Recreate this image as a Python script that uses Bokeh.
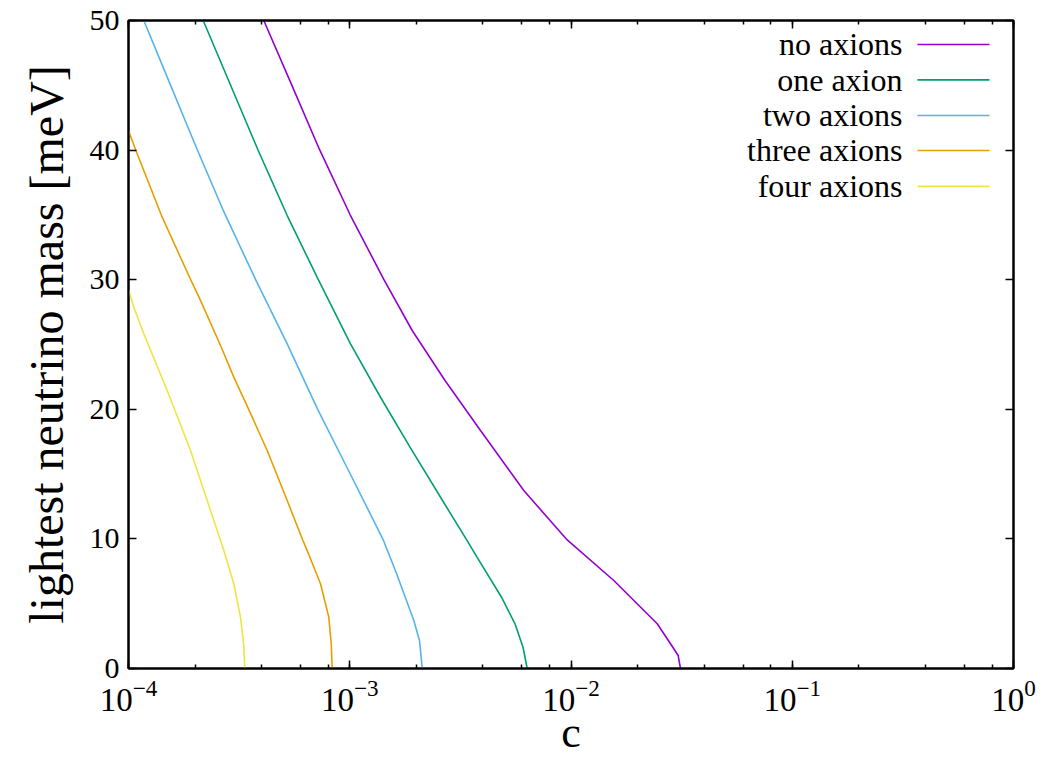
from bokeh.plotting import figure
from bokeh.models import LogAxis, LinearAxis, FixedTicker, LogTicker, Range1d, CustomJSTickFormatter
from bokeh.core.properties import value
from bokeh.embed import file_html
from bokeh.resources import INLINE

# ---- data ----
series_names = ["no axions", "one axion", "two axions", "three axions", "four axions"]
series_colors = ["#9400d3", "#009e73", "#56b4e9", "#e69f00", "#f0e442"]

c_none = [4.088e-4, 5.397e-4, 7.298e-4, 1.0026e-3, 1.425e-3, 1.9155e-3, 2.695e-3,
          3.899e-3, 6.119e-3, 9.612e-3, 1.561e-2, 2.453e-2, 2.817e-2, 3.051e-2, 3.125e-2]
m_none = [50.0, 45.24, 40.05, 35.03, 30.02, 26.08, 22.22, 18.36, 13.73, 9.92, 6.79, 3.45,
          1.91, 1.00, 0.0]

c_one = [2.176e-4, 3.841e-4, 5.215e-4, 7.201e-4, 1.0079e-3, 1.377e-3, 1.872e-3, 2.681e-3,
         3.371e-3, 3.760e-3, 4.853e-3, 5.584e-3, 6.069e-3, 6.340e-3]
m_one = [50.0, 40.05, 34.95, 30.02, 25.05, 20.93, 17.08, 12.71, 9.95, 8.59, 5.50, 3.45, 1.64, 0.0]

c_two = [1.1725e-4, 1.444e-4, 1.842e-4, 2.044e-4, 2.661e-4, 3.750e-4, 5.215e-4, 7.171e-4,
         1.0079e-3, 1.415e-3, 1.627e-3, 1.948e-3, 2.067e-3, 2.126e-3]
m_two = [50.0, 46.27, 41.90, 40.05, 35.47, 30.02, 25.05, 19.98, 14.97, 9.95, 7.33, 3.70, 2.16, 0.0]

c_three = [1.0e-4, 1.0756e-4, 1.410e-4, 1.907e-4, 2.083e-4, 2.606e-4, 2.992e-4, 3.498e-4,
           4.236e-4, 5.215e-4, 6.116e-4, 6.422e-4, 7.376e-4, 8.041e-4, 8.245e-4, 8.331e-4]
m_three = [41.51, 40.05, 34.95, 30.02, 28.65, 24.92, 22.48, 19.98, 16.82, 12.96, 9.95, 9.10,
           6.54, 3.96, 1.93, 0.0]

c_four = [1.0031e-4, 1.0567e-4, 1.1725e-4, 1.496e-4, 1.907e-4, 2.348e-4, 2.697e-4, 2.992e-4,
          3.208e-4, 3.320e-4, 3.354e-4]
m_four = [29.17, 27.88, 25.83, 21.45, 16.82, 12.19, 9.10, 6.54, 3.96, 1.77, 0.0]

y_ticks = [0, 10, 20, 30, 40, 50]

series_c = [c_none, c_one, c_two, c_three, c_four]
series_m = [m_none, m_one, m_two, m_three, m_four]

# ---- figure ----
FONT = "Liberation Serif"
p = figure(frame_width=885, frame_height=648, x_axis_type="log",
           x_range=Range1d(1e-4, 1.0), y_range=Range1d(0, 50),
           output_backend="svg", toolbar_location=None,
           min_border_left=128, min_border_right=48, min_border_top=20, min_border_bottom=95)
p.background_fill_color = "white"
p.border_fill_color = "white"
p.grid.visible = False
p.outline_line_color = "black"
p.outline_line_width = 2

for cs, ms, col in zip(series_c, series_m, series_colors):
    p.line(cs, ms, line_color=col, line_width=1.6)


def style_ticks(ax):
    ax.major_tick_in = 8
    ax.major_tick_out = 0
    ax.minor_tick_in = 4
    ax.minor_tick_out = 0
    ax.major_tick_line_width = 1.5
    ax.minor_tick_line_width = 1.5
    ax.axis_line_width = 2
    ax.major_tick_line_color = "black"
    ax.minor_tick_line_color = "black"
    ax.axis_line_color = "black"


xa = p.xaxis[0]
ya = p.yaxis[0]
xa.ticker = LogTicker(desired_num_ticks=5)
ya.ticker = FixedTicker(ticks=y_ticks, minor_ticks=[])
for ax in (xa, ya):
    style_ticks(ax)
    ax.major_label_text_font = FONT
    ax.major_label_text_color = "black"
    ax.axis_label_text_font = FONT
    ax.axis_label_text_font_style = "normal"
    ax.axis_label_text_color = "black"
xa.major_label_text_font_size = "33px"
ya.major_label_text_font_size = "30px"
xa.axis_label_text_font_size = "44px"
ya.axis_label_text_font_size = "48px"
xa.axis_label = "c"
ya.axis_label = "lightest neutrino mass [meV]"
xa.major_label_standoff = 11
xa.axis_label_standoff = -6
ya.major_label_standoff = 9
ya.axis_label_standoff = 14

# mirrored axes (ticks only)
top = LogAxis(ticker=LogTicker(desired_num_ticks=5),
              formatter=CustomJSTickFormatter(code="return ''"))
right = LinearAxis(ticker=FixedTicker(ticks=y_ticks, minor_ticks=[]),
                   formatter=CustomJSTickFormatter(code="return ''"))
for ax in (top, right):
    style_ticks(ax)
    ax.major_label_standoff = 0
    ax.major_label_text_font_size = "8px"
p.add_layout(top, "above")
p.add_layout(right, "right")

# legend (text on the left, sample line on the right)
leg_text_x = 0.315
leg_x0, leg_x1 = 0.368, 0.779
leg_y = [48.15, 45.42, 42.67, 39.97, 37.2]
p.text(x=[leg_text_x] * len(series_names), y=leg_y, text=series_names,
       text_font=value(FONT), text_font_size="32px", text_align="right",
       text_baseline="middle", text_color="black")
p.segment(x0=[leg_x0] * 5, y0=leg_y, x1=[leg_x1] * 5, y1=leg_y,
          line_color=series_colors, line_width=1.6)

open("out.html", "w").write(file_html(p, INLINE))
